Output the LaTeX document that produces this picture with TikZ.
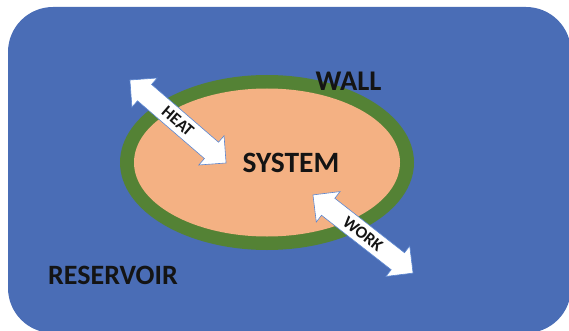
\documentclass[tikz,border=0pt]{standalone}
\usepackage{fontspec}
\setsansfont{Carlito}
\usepackage{xcolor}
\usepackage{tikz}
\usetikzlibrary{shapes.arrows}
\definecolor{resc}{HTML}{4A6DB6}
\definecolor{wallc}{HTML}{548235}
\definecolor{sysc}{HTML}{F4B183}
\definecolor{edgec}{HTML}{5B86D0}
\definecolor{inkc}{HTML}{141414}
\tikzset{
  lbl/.style={font=\sffamily\bfseries,text=inkc,inner sep=0pt},
  flow/.style={double arrow,fill=white,draw=edgec,line width=0.6pt,
    double arrow tip angle=90,double arrow head extend=8.5pt,
    minimum height=127pt,inner xsep=0pt,inner ysep=5pt,
    text height=11pt,text depth=0pt,
    font=\sffamily\bfseries\fontsize{17}{17}\selectfont,text=inkc}
}

\begin{document}
\begin{tikzpicture}[x=1pt,y=-1pt]
\useasboundingbox (0,0) rectangle (569,331);
\fill[resc,rounded corners=45pt] (8,7) rectangle (571,333);
\coordinate (C) at (267,162.5);
\fill[wallc] (C) ellipse [x radius=147,y radius=87.5];
\fill[sysc] (C) ellipse [x radius=133,y radius=74];
\node[lbl,font=\sffamily\bfseries\fontsize{29.5}{29.5}\selectfont] (sys) at (291,162.5) {SYSTEM};
\node[lbl,font=\sffamily\bfseries\fontsize{28.5}{28.5}\selectfont] (wall) at (348.5,81.5) {WALL};
\node[lbl,font=\sffamily\bfseries\fontsize{28}{28}\selectfont] (res) at (113,275) {RESERVOIR};
\node[flow,rotate=-40.8] (heat) at (178,121.5) {HEAT};
\node[flow,rotate=-38] (work) at (363,234) {WORK};
\end{tikzpicture}
\end{document}
